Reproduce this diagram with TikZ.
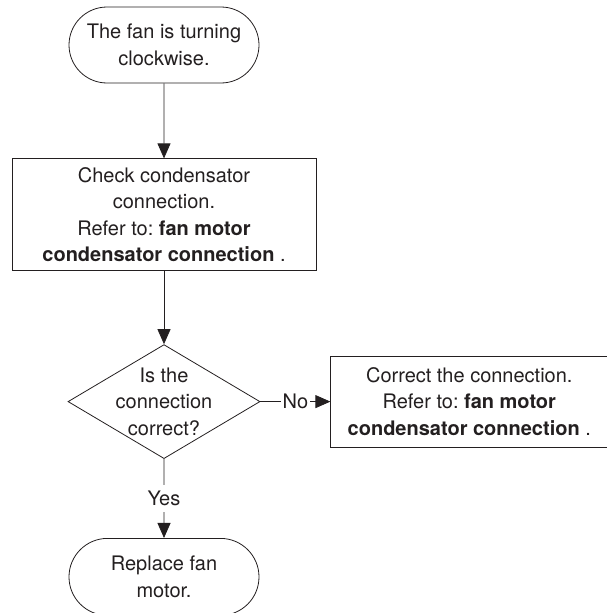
\documentclass[tikz,border=0pt]{standalone}
\usepackage{fontspec}
\setmainfont{TeX Gyre Heros}
\usepackage{xcolor}
\usepackage{tikz}
\usetikzlibrary{arrows.meta,positioning,shapes.geometric,shapes.misc}
\definecolor{ink}{HTML}{231F20}

\begin{document}
\begin{tikzpicture}[
  x=1pt, y=1pt, line width=0.8pt,
  every node/.style={font=\fontsize{20}{26.5}\selectfont, text=ink},
  term/.style={draw=ink, rounded rectangle, align=center, minimum width=190pt, minimum height=76pt, inner sep=0pt},
  box/.style={draw=ink, align=center, inner sep=0pt},
  decision/.style={draw=ink, diamond, align=center, minimum width=192pt, minimum height=114pt, inner sep=-15pt},
  lbl/.style={fill=white, inner xsep=2pt, inner ysep=6pt},
  arr/.style={-{Triangle[length=15pt,width=13pt]}, draw=ink}
]
\useasboundingbox (0,0) rectangle (607,-613);
\node[term] (start) at (164,-45) {The fan is turning\\clockwise.};
\node[box, minimum width=304pt, minimum height=112pt, below=75pt of start] (check) {Check condensator\\connection.\\Refer to:\ \textbf{fan motor}\\\textbf{condensator connection}\ .};
\node[decision, below=73pt of check] (decide) {Is the\\connection\\correct?};
\node[box, minimum width=277pt, minimum height=91pt, right=70pt of decide] (fix) {Correct the connection.\\Refer to:\ \textbf{fan motor}\\\textbf{condensator connection}\ .};
\node[term, minimum height=77pt, below=79pt of decide] (finish) {Replace fan\\motor.};
\draw[arr] (start) -- (check);
\draw[arr] (check) -- (decide);
\draw[arr] (decide) -- node[lbl] {No} (fix);
\draw[arr] (decide) -- node[lbl] {Yes} (finish);
\end{tikzpicture}
\end{document}
